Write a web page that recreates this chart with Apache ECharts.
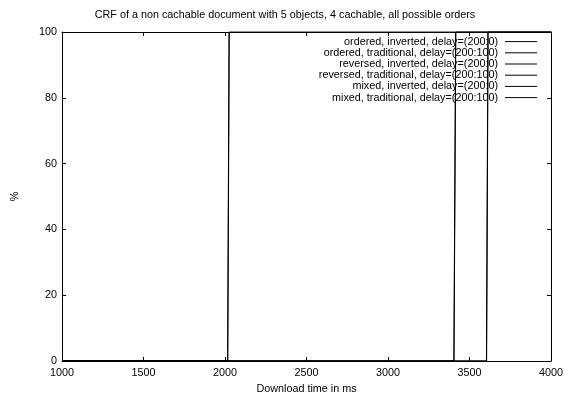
<!DOCTYPE html>
<html><head><meta charset="utf-8">
<script src="https://cdn.jsdelivr.net/npm/echarts@6/dist/echarts.min.js"></script>
<style>html,body{margin:0;padding:0;background:#fff}#c{width:570px;height:394px}</style>
</head><body><div id="c"></div>
<script>
const seriesNames = [
  'ordered, inverted, delay=(200:0)',
  'ordered, traditional, delay=(200:100)',
  'reversed, inverted, delay=(200:0)',
  'reversed, traditional, delay=(200:100)',
  'mixed, inverted, delay=(200:0)',
  'mixed, traditional, delay=(200:100)'
];
// CDF curves: [download time ms, %]
const orderedInverted     = [[1000,0],[2016,0],[2025,100],[4000,100]];
const orderedTraditional  = [[1000,0],[2017,0],[2026,100],[4000,100]];
const reversedInverted    = [[1000,0],[3404,0],[3415,100],[4000,100]];
const reversedTraditional = [[1000,0],[3405,0],[3416,100],[4000,100]];
const mixedInverted       = [[1000,0],[3604,0],[3613,100],[4000,100]];
const mixedTraditional    = [[1000,0],[3605,0],[3614,100],[4000,100]];
const seriesData = [orderedInverted, orderedTraditional, reversedInverted, reversedTraditional, mixedInverted, mixedTraditional];
const xTicks = [1000,1500,2000,2500,3000,3500,4000];
const yTicks = [0,20,40,60,80,100];

const font = 'Liberation Sans, Arial, sans-serif';
const fs = 10.8;
const chart = echarts.init(document.getElementById('c'), null, {renderer:'canvas'});
const axisCommon = {
  axisLine:{show:true, onZero:false, lineStyle:{color:'#000', width:1}},
  axisTick:{show:true, inside:true, length:4, lineStyle:{color:'#000'}},
  splitLine:{show:false}
};
chart.setOption({
  animation:false,
  backgroundColor:'#fff',
  title:{text:'CRF of a non cachable document with 5 objects, 4 cachable, all possible orders',
    left:'center', top:10, padding:0, textStyle:{fontFamily:font, fontSize:fs, fontWeight:'normal', color:'#000'}},
  grid:{left:62, right:19, top:32, bottom:33, containLabel:false, outerBoundsMode:'none'},
  legend:{orient:'vertical', right:33, top:36, padding:0, align:'right', itemGap:0, itemWidth:32, itemHeight:1,
    icon:'rect', data:seriesNames,
    textStyle:{fontFamily:font, fontSize:fs, color:'#000', lineHeight:11.2, padding:[0,2,0,0]},
    itemStyle:{color:'#000'}, selectedMode:false},
  xAxis:[
    Object.assign({type:'value', min:xTicks[0], max:xTicks[xTicks.length-1], interval:500, position:'bottom',
      name:'Download time in ms', nameLocation:'middle', nameGap:22,
      nameTextStyle:{fontFamily:font, fontSize:fs, color:'#000'},
      axisLabel:{fontFamily:font, fontSize:fs, color:'#000', margin:7, formatter:v=>String(v)}}, axisCommon),
    Object.assign({type:'value', min:xTicks[0], max:xTicks[xTicks.length-1], interval:500, position:'top',
      axisLabel:{show:false}}, axisCommon)
  ],
  yAxis:[
    Object.assign({type:'value', min:yTicks[0], max:yTicks[yTicks.length-1], interval:20, position:'left',
      name:'%', nameLocation:'middle', nameGap:41, nameRotate:90,
      nameTextStyle:{fontFamily:font, fontSize:fs, color:'#000'},
      axisLabel:{fontFamily:font, fontSize:fs, color:'#000', margin:5, formatter:v=>String(v)}}, axisCommon),
    Object.assign({type:'value', min:yTicks[0], max:yTicks[yTicks.length-1], interval:20, position:'right',
      axisLabel:{show:false}}, axisCommon)
  ],
  series: seriesNames.map((n,i)=>({
    name:n, type:'line', data:seriesData[i], symbol:'none', showSymbol:false,
    lineStyle:{color:'#000', width:1}, itemStyle:{color:'#000'}, clip:true
  }))
});
</script></body></html>
